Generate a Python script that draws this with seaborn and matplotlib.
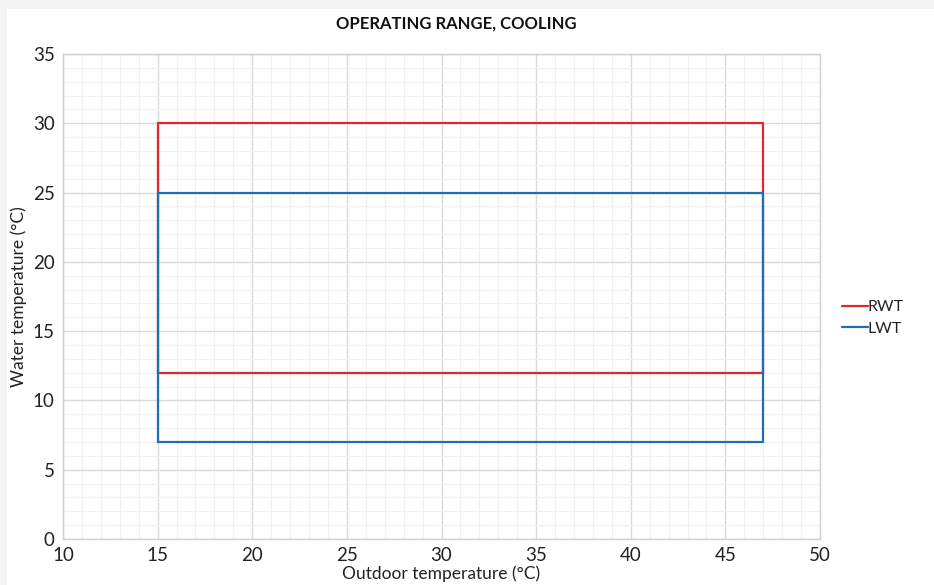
import matplotlib
matplotlib.use("Agg")
import matplotlib.pyplot as plt
import seaborn as sns
import pandas as pd
from matplotlib.patches import Rectangle
from matplotlib.ticker import MultipleLocator

# Data (operating envelope polygons)
rwt_x = [15, 15, 47, 47, 15]
rwt_y = [12, 30, 30, 12, 12]
lwt_x = [15, 15, 47, 47, 15]
lwt_y = [7, 25, 25, 7, 7]
series_names = ["RWT", "LWT"]
colors = ["#e3262b", "#1f6db8"]

title = "OPERATING RANGE, COOLING"
xlabel = "Outdoor temperature (°C)"
ylabel = "Water temperature (°C)"

rows = []
for name, xs, ys in [("RWT", rwt_x, rwt_y), ("LWT", lwt_x, lwt_y)]:
    for i, (x, y) in enumerate(zip(xs, ys)):
        rows.append({"series": name, "order": i, "x": x, "y": y})
df = pd.DataFrame(rows)

sns.set_theme(style="white")
plt.rcParams["font.family"] = ["Lato", "DejaVu Sans"]

fig = plt.figure(figsize=(9.34, 5.85), dpi=100)
fig.patch.set_facecolor("white")
# light gray frame strips at top and left
fig.add_artist(Rectangle((0, 1 - 9 / 585), 1, 9 / 585, transform=fig.transFigure,
                         facecolor="#f3f3f3", edgecolor="none", zorder=-10))
fig.add_artist(Rectangle((0, 0), 7 / 934, 1, transform=fig.transFigure,
                         facecolor="#f3f3f3", edgecolor="none", zorder=-10))

ax = fig.add_axes([63 / 934, 1 - 539 / 585, (820 - 63) / 934, (539 - 54) / 585])

sns.lineplot(data=df, x="x", y="y", hue="series", units="series", estimator=None,
             sort=False, palette=dict(zip(series_names, colors)), hue_order=series_names,
             linewidth=1.6, ax=ax)

ax.set_xlim(10, 50)
ax.set_ylim(0, 35)
ax.xaxis.set_major_locator(MultipleLocator(5))
ax.yaxis.set_major_locator(MultipleLocator(5))
ax.xaxis.set_minor_locator(MultipleLocator(1))
ax.yaxis.set_minor_locator(MultipleLocator(1))
ax.grid(which="major", color="#dadada", linewidth=1.0)
ax.grid(which="minor", color="#f1f1f1", linewidth=0.9)
ax.set_axisbelow(True)
for s in ax.spines.values():
    s.set_color("#cfcfcf")
    s.set_linewidth(1.0)
ax.tick_params(axis="both", which="major", direction="out", length=5, width=1,
               color="#c8c8c8", labelsize=13.5, labelcolor="#222222", pad=1)
ax.tick_params(axis="both", which="minor", length=0)

ax.set_xlabel(xlabel, fontsize=12.5, color="#222222", labelpad=1)
ax.set_ylabel(ylabel, fontsize=12.5, color="#222222", labelpad=4)
fig.text(0.489, 1 - 24 / 585, title, ha="center", va="center", fontsize=12,
         fontweight="bold", color="#111111")

leg = ax.legend(loc="center left", bbox_to_anchor=(1.01, 0.456), frameon=False,
                fontsize=11.5, handlelength=1.6, handletextpad=0.0, labelspacing=0.45,
                labelcolor="#222222")

fig.savefig("out.png", dpi=100)
